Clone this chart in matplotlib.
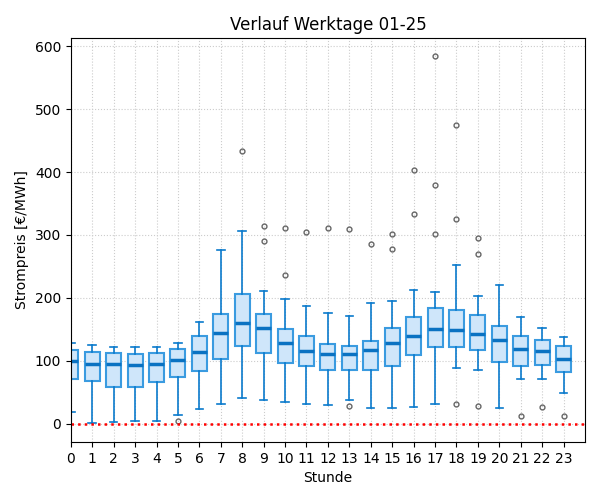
import matplotlib
matplotlib.use("Agg")
import matplotlib.pyplot as plt

hours = list(range(24))
med = [100, 95, 95, 94, 95, 102, 114, 144, 160, 152, 128, 116, 111, 111, 117, 128,
       139, 150, 149, 142, 133, 118, 115, 103]
q1 = [71, 68, 58, 59, 66, 74, 84, 103, 123, 112, 96, 92, 85, 85, 85, 92,
      109, 122, 122, 117, 98, 92, 93, 82]
q3 = [117, 114, 112, 111, 112, 119, 139, 175, 206, 174, 150, 139, 127, 123, 131, 152,
      169, 184, 180, 173, 155, 139, 133, 123]
whislo = [18, 1, 3, 4, 4, 14, 24, 31, 41, 37, 34, 31, 30, 38, 25, 25,
          26, 31, 88, 85, 25, 71, 71, 49]
whishi = [129, 125, 122, 122, 122, 129, 161, 276, 307, 211, 198, 187, 176, 171, 192, 195,
          212, 209, 252, 203, 220, 169, 152, 138]
fliers = [[], [], [], [], [], [4], [], [], [433], [315, 291], [311, 236], [304], [311],
          [309, 28], [285], [301, 277], [403, 333], [584, 379, 301], [474, 325, 31],
          [295, 269, 28], [], [12], [27], [12]]

stats = []
for i in hours:
    stats.append(dict(med=med[i], q1=q1[i], q3=q3[i], whislo=whislo[i],
                      whishi=whishi[i], fliers=fliers[i]))

fig = plt.figure(figsize=(6, 5), dpi=100)
ax = fig.add_axes([0.118, 0.116, 0.857, 0.808])

ax.bxp(stats, positions=hours, widths=0.7, patch_artist=True,
       boxprops=dict(facecolor="#cfe6fa", edgecolor="#3a9be0", linewidth=1.5),
       medianprops=dict(color="#0a72c2", linewidth=2.5),
       whiskerprops=dict(color="#0a7acc", linewidth=1.2),
       capprops=dict(color="#0a7acc", linewidth=1.2),
       flierprops=dict(marker="o", markersize=3.5, markerfacecolor="none",
                       markeredgecolor="#666666", markeredgewidth=1.0))

ax.axhline(0, color="red", linestyle=":", linewidth=1.8)
ax.set_xlim(0, 24)
ax.set_ylim(-29, 613)
ax.set_xticks(hours)
ax.set_xticklabels([str(h) for h in hours])
ax.grid(True, linestyle=":", color="#cccccc", linewidth=0.8)
ax.set_axisbelow(True)
ax.set_title("Verlauf Werktage 01-25")
ax.set_xlabel("Stunde")
ax.set_ylabel("Strompreis [€/MWh]")

fig.savefig("out.png", dpi=100)
